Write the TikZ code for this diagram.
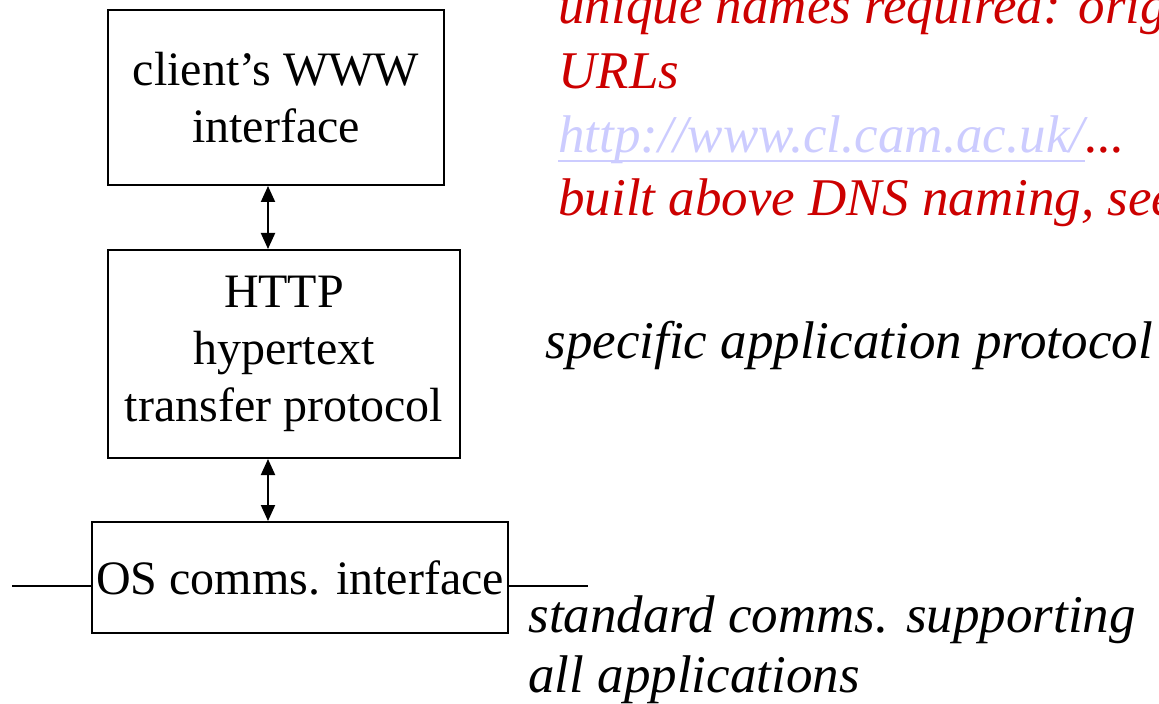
\documentclass[tikz,border=0pt]{standalone}
\usepackage{fontspec}
\setmainfont{Liberation Serif}
\usetikzlibrary{arrows.meta}
\definecolor{redtxt}{RGB}{204,0,0}
\definecolor{urlc}{RGB}{204,204,255}
\tikzset{
  box/.style={draw, line width=1pt, rectangle, inner sep=0pt, align=center,
    font=\fontsize{24}{28.5}\selectfont},
  note/.style={anchor=base west, inner sep=0pt, font=\fontsize{26.5}{31}\selectfont\itshape},
  link/.style={line width=1pt, {Triangle[length=8pt,width=7pt]}-{Triangle[length=8pt,width=7pt]}},
  wire/.style={line width=0.7pt}
}
\begin{document}
\begin{tikzpicture}[x=0.5pt,y=-0.5pt]
\useasboundingbox (0,0) rectangle (1159,704);
\clip (0,0) rectangle (1159,704);
\node[box, minimum width=168pt, minimum height=87.5pt] (b1) at (276,97.5) {client’s WWW\\interface};
\node[box, minimum width=176pt, minimum height=104pt] (b2) at (284,354) {HTTP\\hypertext\\transfer protocol};
\node[box, minimum width=208pt, minimum height=55.5pt] (b3) at (300,577.5) {OS comms. interface};
\coordinate (ax) at (268,0);
\draw[link] (b1.south -| ax) -- (b2.north -| ax);
\draw[link] (b2.south -| ax) -- (b3.north -| ax);
\coordinate (wl) at (12,586);
\coordinate (wr) at (588,586);
\draw[wire] (wl) -- (b3.west |- wl);
\draw[wire] (b3.east |- wr) -- (wr);
\node[note, text=redtxt] (r1) at (558,24) {unique names required: original};
\node[note, text=redtxt] (r2) at (558,89) {URLs};
\node[note, text=urlc] (r3) at (558,153) {http://www.cl.cam.ac.uk/};
\node[note, text=redtxt] (r3d) at (r3.base east) {...};
\draw[urlc, line width=1.2pt] ([yshift=-4pt]r3.base west) -- ([yshift=-4pt]r3.base east);
\node[note, text=redtxt] (r4) at (558,216) {built above DNS naming, see};
\node[note] (s1) at (545,359) {specific application protocol};
\node[note] (c1) at (528,632) {standard comms. supporting};
\node[note] (c2) at (528,692) {all applications};
\end{tikzpicture}
\end{document}
